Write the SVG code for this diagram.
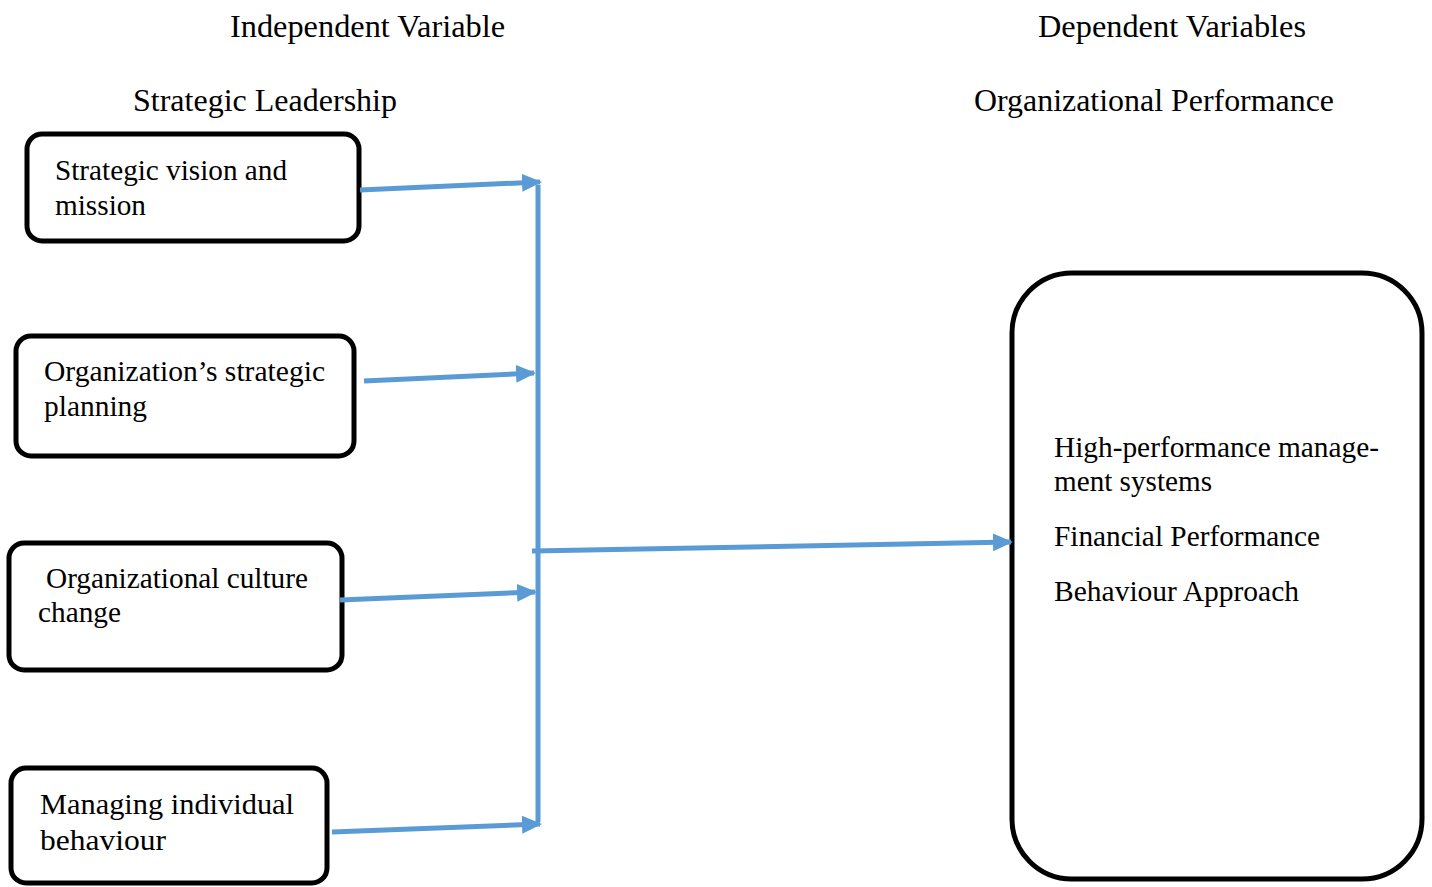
<svg xmlns="http://www.w3.org/2000/svg" width="1432" height="887" viewBox="0 0 1432 887">
<style>
text{font-family:"Liberation Serif","Times New Roman",serif;fill:#000}
.h{font-size:32px}
.t{font-size:29px}
.box{fill:#fff;stroke:#000;stroke-width:5}
.c{stroke:#5B9BD5;stroke-width:5;fill:none}
</style>
<defs>
<marker id="ar" markerWidth="20" markerHeight="20" refX="18" refY="10" orient="auto" markerUnits="userSpaceOnUse" viewBox="0 0 20 20">
<path d="M0,1 L20,10 L0,19 z" fill="#5B9BD5"/>
</marker>
</defs>
<rect width="1432" height="887" fill="#fff"/>
<g id="headers">
<text class="h" x="230" y="37" textLength="275" lengthAdjust="spacingAndGlyphs">Independent Variable</text>
<text class="h" x="133" y="111" textLength="264" lengthAdjust="spacingAndGlyphs">Strategic Leadership</text>
<text class="h" x="1038" y="37" textLength="268" lengthAdjust="spacingAndGlyphs">Dependent Variables</text>
<text class="h" x="974" y="111" textLength="360" lengthAdjust="spacingAndGlyphs">Organizational Performance</text>
</g>
<g id="n1">
<rect class="box" x="27" y="134" width="332" height="107" rx="15"/>
<text class="t" x="55" y="180" textLength="232" lengthAdjust="spacingAndGlyphs">Strategic vision and</text>
<text class="t" x="55" y="215" textLength="91" lengthAdjust="spacingAndGlyphs">mission</text>
</g>
<g id="n2">
<rect class="box" x="16" y="336" width="338" height="120" rx="15"/>
<text class="t" x="44" y="381" textLength="281" lengthAdjust="spacingAndGlyphs">Organization’s strategic</text>
<text class="t" x="44" y="416" textLength="103" lengthAdjust="spacingAndGlyphs">planning</text>
</g>
<g id="n3">
<rect class="box" x="9" y="543" width="333" height="127" rx="15"/>
<text class="t" x="46" y="588" textLength="262" lengthAdjust="spacingAndGlyphs">Organizational culture</text>
<text class="t" x="38" y="622" textLength="83" lengthAdjust="spacingAndGlyphs">change</text>
</g>
<g id="n4">
<rect class="box" x="11" y="768" width="316" height="115" rx="15"/>
<text class="t" x="40" y="814" textLength="254" lengthAdjust="spacingAndGlyphs">Managing individual</text>
<text class="t" x="40" y="850" textLength="126" lengthAdjust="spacingAndGlyphs">behaviour</text>
</g>
<g id="n5">
<rect class="box" x="1012" y="273" width="410" height="606" rx="60"/>
<text class="t" x="1054" y="457" textLength="325" lengthAdjust="spacingAndGlyphs">High-performance manage-</text>
<text class="t" x="1054" y="491" textLength="158" lengthAdjust="spacingAndGlyphs">ment systems</text>
<text class="t" x="1054" y="546" textLength="266" lengthAdjust="spacingAndGlyphs">Financial Performance</text>
<text class="t" x="1054" y="601" textLength="245" lengthAdjust="spacingAndGlyphs">Behaviour Approach</text>
</g>
<g id="connectors">
<line class="c" x1="538" y1="185" x2="538" y2="822"/>
<line class="c" x1="360" y1="190" x2="540" y2="182" marker-end="url(#ar)"/>
<line class="c" x1="364" y1="381" x2="534" y2="373" marker-end="url(#ar)"/>
<line class="c" x1="340" y1="600" x2="535" y2="592" marker-end="url(#ar)"/>
<line class="c" x1="332" y1="832" x2="540" y2="824" marker-end="url(#ar)"/>
<line class="c" x1="532" y1="551" x2="1011" y2="542" marker-end="url(#ar)"/>
</g>
</svg>
